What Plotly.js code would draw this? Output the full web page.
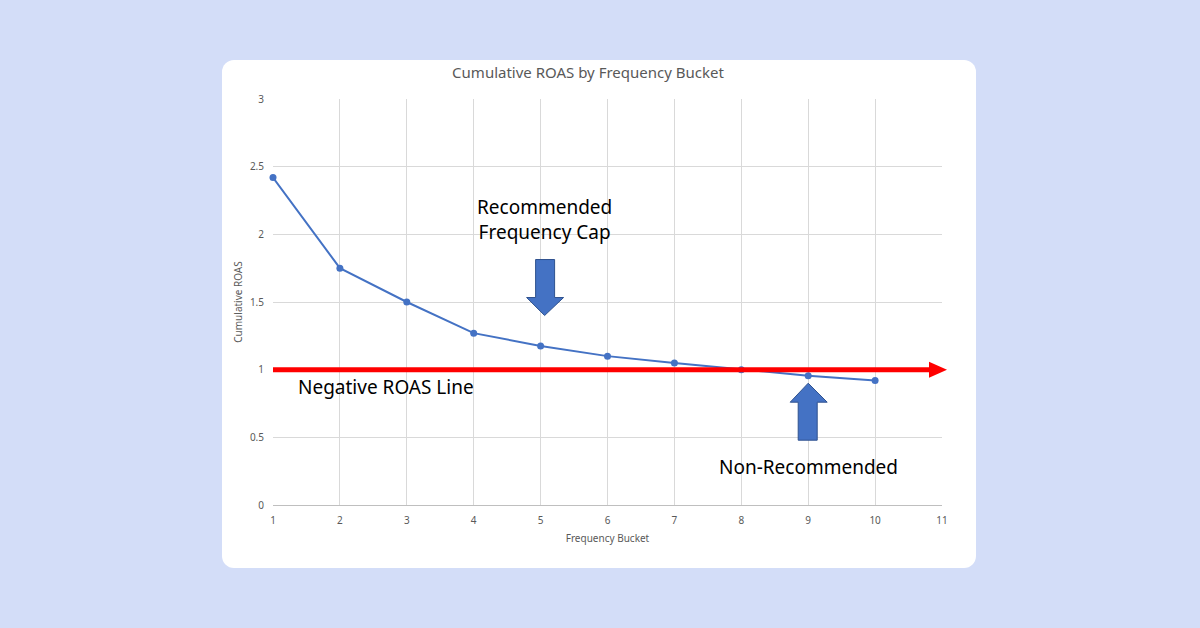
<!DOCTYPE html>
<html>
<head>
<meta charset="utf-8">
<script src="https://cdn.plot.ly/plotly-3.0.1.min.js"></script>
<style>
  html, body { margin:0; padding:0; width:1200px; height:628px; background:#d3ddf8; overflow:hidden; }
  #card { position:absolute; left:222px; top:60px; width:754px; height:508px; background:#ffffff; border-radius:12px; }
  #chart { position:absolute; left:0; top:0; width:1200px; height:628px; }
</style>
</head>
<body>
<div id="card"></div>
<div id="chart"></div>
<script>
// Data
const frequencyBucket = [1, 2, 3, 4, 5, 6, 7, 8, 9, 10];
const cumulativeROAS = [2.42, 1.75, 1.50, 1.27, 1.175, 1.10, 1.05, 1.00, 0.955, 0.92];
const breakEvenROAS = 1;
const recommendedBucket = 5;
const nonRecommendedBucket = 9;
const yTickVals = [0, 0.5, 1, 1.5, 2, 2.5, 3];
const yTickText = ['0', '0.5', '1', '1.5', '2', '2.5', '3'];
const xTickVals = [1, 2, 3, 4, 5, 6, 7, 8, 9, 10, 11];

const chartTitle = 'Cumulative ROAS by Frequency Bucket';
const xTitle = 'Frequency Bucket';
const yTitle = 'Cumulative ROAS';
const labelNegative = 'Negative ROAS Line';
const labelRecommended = 'Recommended<br>Frequency Cap';
const labelNonRecommended = 'Non-Recommended';

const blue = '#4472C4';
const blueEdge = '#2F528F';
const red = '#FF0000';
const yMax = 3;

const trace = {
  x: frequencyBucket,
  y: cumulativeROAS,
  type: 'scatter',
  mode: 'lines+markers',
  cliponaxis: false,
  line: { color: blue, width: 2 },
  marker: { color: blue, size: 7 },
  hoverinfo: 'skip'
};

// Down arrow (tip pixel-anchored at recommended bucket), up arrow (tip anchored below non-recommended bucket)
const downArrowPath = 'M -5,56 L 14,56 L 14,18 L 23,18 L 4,0 L -14,18 L -5,18 Z';
const upArrowPath = 'M -10,-57 L 9,-57 L 9,-19 L 19,-19 L 0,0 L -18,-19 L -10,-19 Z';

const layout = {
  width: 1200,
  height: 628,
  paper_bgcolor: 'rgba(0,0,0,0)',
  plot_bgcolor: '#ffffff',
  margin: { l: 273, r: 258, t: 99, b: 123, pad: 0 },
  showlegend: false,
  font: { family: 'Noto Sans, sans-serif', color: '#595959' },
  title: {
    text: chartTitle,
    font: { size: 15, color: '#595959', family: 'Noto Sans, sans-serif' },
    xref: 'container', yref: 'container',
    x: 0.49, y: 1 - 73 / 628,
    xanchor: 'center', yanchor: 'middle'
  },
  xaxis: {
    range: [1, 11],
    tickvals: xTickVals,
    ticks: '',
    showgrid: true,
    gridcolor: '#d9d9d9',
    gridwidth: 1,
    zeroline: false,
    showline: true,
    linecolor: '#bfbfbf',
    linewidth: 1,
    tickfont: { size: 10, color: '#595959' },
    ticklabelstandoff: 6,
    title: { text: xTitle, font: { size: 10, color: '#595959' }, standoff: 8 },
    fixedrange: true
  },
  yaxis: {
    range: [0, yMax],
    tickvals: yTickVals,
    ticktext: yTickText,
    ticks: '',
    showgrid: true,
    gridcolor: '#d9d9d9',
    gridwidth: 1,
    zeroline: false,
    showline: false,
    tickfont: { size: 10, color: '#595959' },
    ticklabelstandoff: 8,
    title: { text: yTitle, font: { size: 10, color: '#595959' }, standoff: 5 },
    fixedrange: true
  },
  shapes: [
    // red shaft
    {
      type: 'line', xref: 'x', yref: 'y',
      x0: frequencyBucket[0], x1: 10.85, y0: breakEvenROAS, y1: breakEvenROAS,
      line: { color: red, width: 5 }, layer: 'above'
    },
    // red arrow head (paper refs so it is not clipped)
    {
      type: 'path', xref: 'paper', yref: 'paper',
      xsizemode: 'pixel', ysizemode: 'pixel',
      xanchor: 1, yanchor: breakEvenROAS / yMax,
      path: 'M -13,-8 L 5,0 L -13,8 Z',
      fillcolor: red, line: { color: red, width: 0 }, layer: 'above'
    },
    {
      type: 'path', xref: 'x', yref: 'y',
      xsizemode: 'pixel', ysizemode: 'pixel',
      xanchor: recommendedBucket, yanchor: 1.40,
      path: downArrowPath,
      fillcolor: blue, line: { color: blueEdge, width: 1 }, layer: 'above'
    },
    {
      type: 'path', xref: 'x', yref: 'y',
      xsizemode: 'pixel', ysizemode: 'pixel',
      xanchor: nonRecommendedBucket, yanchor: 0.90,
      path: upArrowPath,
      fillcolor: blue, line: { color: blueEdge, width: 1 }, layer: 'above'
    }
  ],
  annotations: [
    {
      text: labelRecommended, xref: 'x', yref: 'y',
      x: recommendedBucket, y: 2.11, xshift: 4,
      showarrow: false, align: 'center',
      font: { size: 19, color: '#000000', family: 'Noto Sans, sans-serif' }
    },
    {
      text: labelNegative, xref: 'x', yref: 'y',
      x: 1.35, y: 0.87, xanchor: 'left',
      showarrow: false,
      font: { size: 19, color: '#000000', family: 'Noto Sans, sans-serif' }
    },
    {
      text: labelNonRecommended, xref: 'x', yref: 'y',
      x: nonRecommendedBucket, y: 0.28,
      showarrow: false,
      font: { size: 19, color: '#000000', family: 'Noto Sans, sans-serif' }
    }
  ]
};

Plotly.newPlot('chart', [trace], layout, { displayModeBar: false, staticPlot: true });
</script>
</body>
</html>
